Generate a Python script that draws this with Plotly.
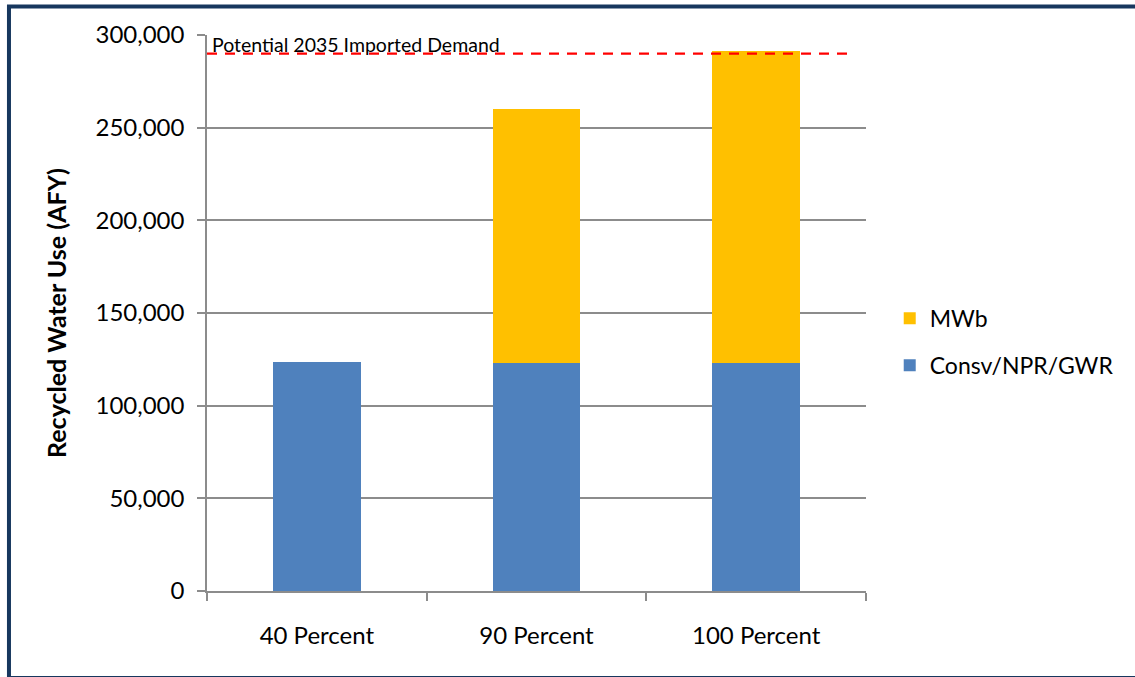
import plotly.graph_objects as go

categories = ["40 Percent", "90 Percent", "100 Percent"]
consv_npr_gwr = [123700, 123100, 123100]
mwb = [0, 136900, 168500]
imported_demand_2035 = 290000
y_ticks = [0, 50000, 100000, 150000, 200000, 250000, 300000]

FONT = "Lato, Carlito, Calibri, sans-serif"

fig = go.Figure()
fig.add_trace(go.Bar(name="Consv/NPR/GWR", x=categories, y=consv_npr_gwr,
                     marker=dict(color="#4F81BD", line=dict(width=0)),
                     legendgroup="a", legendrank=2))
fig.add_trace(go.Bar(name="MWb", x=categories, y=mwb,
                     marker=dict(color="#FFC000", line=dict(width=0)),
                     legendgroup="b", legendrank=1))

fig.add_shape(type="line", xref="paper", yref="y", x0=0, x1=0.9727,
              y0=imported_demand_2035, y1=imported_demand_2035,
              line=dict(color="#FF0000", width=2.3, dash="10px,8px"))
fig.add_annotation(xref="paper", yref="y", x=0.004, y=imported_demand_2035,
                   text="Potential 2035 Imported Demand", showarrow=False,
                   xanchor="left", yanchor="bottom", yshift=-4,
                   font=dict(family=FONT, size=19.5, color="#000000"))

# outer frame (top, left and bottom edges visible)
fig.add_shape(type="rect", xref="paper", yref="paper",
              x0=-0.3005, x1=2.0, y0=-0.1565, y1=1.0513,
              line=dict(color="#17375E", width=4), fillcolor="rgba(0,0,0,0)",
              layer="above")

fig.update_layout(
    width=1135, height=677,
    margin=dict(l=207, r=269, t=35, b=86),
    paper_bgcolor="white", plot_bgcolor="white",
    barmode="stack", bargap=0.6,
    font=dict(family=FONT, size=23, color="#000000"),
    showlegend=True,
    legend=dict(x=1.036, xanchor="left", y=0.448, yanchor="middle",
                traceorder="grouped", tracegroupgap=14,
                font=dict(family=FONT, size=23, color="#000000"),
                bgcolor="rgba(0,0,0,0)"),
    xaxis=dict(showline=True, linecolor="#8C8C8C", linewidth=1.5,
               ticks="outside", tickson="boundaries", ticklen=8,
               tickcolor="#8C8C8C", tickwidth=1.5, showgrid=False,
               ticklabelstandoff=22,
               tickfont=dict(family=FONT, size=24, color="#000000")),
    yaxis=dict(range=[0, 300000], tickvals=y_ticks, tickformat=",d",
               showline=True, linecolor="#8C8C8C", linewidth=1.5,
               ticks="outside", ticklen=8, tickcolor="#8C8C8C", tickwidth=1.5,
               showgrid=True, gridcolor="#8C8C8C", gridwidth=1.5,
               zeroline=False, ticklabelstandoff=8,
               tickfont=dict(family=FONT, size=24, color="#000000"),
               title=dict(text="<b>Recycled Water Use (AFY)</b>", standoff=22,
                          font=dict(family=FONT, size=25, color="#000000"))),
)

fig.write_html("out.html")
